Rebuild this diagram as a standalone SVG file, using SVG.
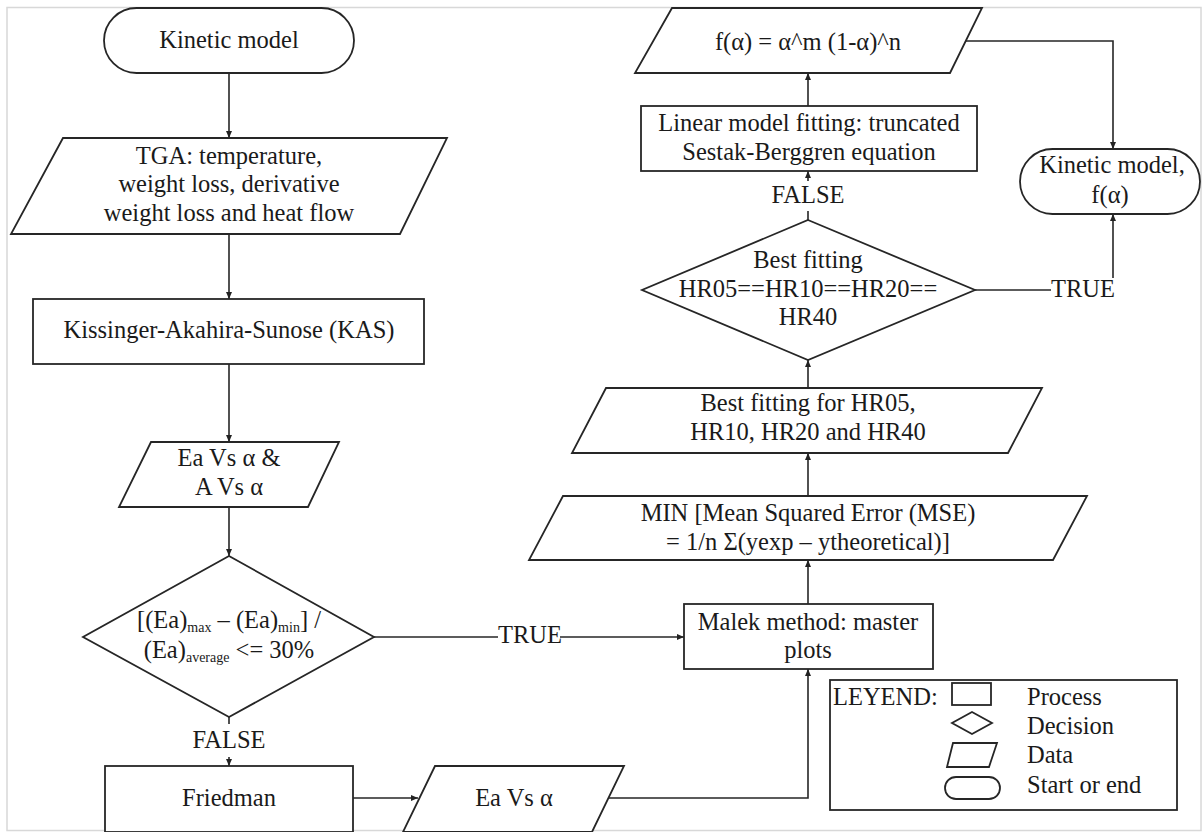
<svg xmlns="http://www.w3.org/2000/svg" width="1203" height="832" viewBox="0 0 1203 832" font-family="'Liberation Serif', 'Times New Roman', Tinos, 'DejaVu Serif', serif">
<defs>
<marker id="arr" markerUnits="userSpaceOnUse" markerWidth="8" markerHeight="8" refX="7" refY="4" orient="auto">
<path d="M0,1 L7,4 L0,7 Z" fill="#222"/>
</marker>
<style>
.s{fill:#fff;stroke:#262626;stroke-width:1.8}
.c{fill:none;stroke:#262626;stroke-width:1.6}
.a{marker-end:url(#arr)}
.t{font-family:'Liberation Serif','Times New Roman',Tinos,'DejaVu Serif',serif;font-size:24.5px;fill:#1a1a1a}
.m{text-anchor:middle}
.sub{font-size:14px}
</style>
</defs>
<rect x="0" y="0" width="1203" height="832" fill="#fff"/>
<rect x="7" y="7.5" width="1194" height="823" fill="none" stroke="#d8d8d8" stroke-width="1.5"/>

<g id="connectors">
<path class="c a" d="M229,73 V138"/>
<path class="c a" d="M229,234 V299"/>
<path class="c a" d="M229,364 V442"/>
<path class="c a" d="M229,507 V556"/>
<path class="c" d="M229,717 V724"/>
<text class="t m" x="229" y="748">FALSE</text>
<path class="c a" d="M229,757 V766"/>
<path class="c" d="M374,637 H498"/>
<text class="t" x="498" y="643">TRUE</text>
<path class="c a" d="M560,637 H684"/>
<path class="c a" d="M353,798 H418"/>
<path class="c a" d="M607,798 H808 V669"/>
<path class="c a" d="M808,604 V560"/>
<path class="c a" d="M808,496 V453"/>
<path class="c a" d="M808,388 V360"/>
<path class="c" d="M808,220 V211"/>
<text class="t m" x="808" y="203">FALSE</text>
<path class="c a" d="M808,181 V171"/>
<path class="c a" d="M808,106 V73"/>
<path class="c a" d="M966,41 H1113 V149"/>
<path class="c" d="M975,290 H1051"/>
<text class="t" x="1051" y="297">TRUE</text>
<path class="c a" d="M1113,278 V214"/>
</g>

<g id="start">
<rect class="s" x="104" y="8" width="250" height="65" rx="32.5"/>
<text class="t m" x="229" y="48">Kinetic model</text>
</g>

<g id="tga">
<path class="s" d="M63,138 H447 L400,234 H11 Z"/>
<text class="t m" x="229" y="164">TGA: temperature,</text>
<text class="t m" x="229" y="192">weight loss, derivative</text>
<text class="t m" x="229" y="221">weight loss and heat flow</text>
</g>

<g id="kas">
<rect class="s" x="33" y="299" width="391" height="65"/>
<text class="t m" x="229" y="338">Kissinger-Akahira-Sunose (KAS)</text>
</g>

<g id="ea-a">
<path class="s" d="M151,442 H339 L308,507 H119 Z"/>
<text class="t m" x="229" y="466">Ea Vs α &amp;</text>
<text class="t m" x="229" y="495">A Vs α</text>
</g>

<g id="decision1">
<path class="s" d="M229,556 L374,637 L229,717 L83,637 Z"/>
<text class="t m" x="229" y="628">[(Ea)<tspan class="sub" dy="4">max</tspan><tspan dy="-4"> – (Ea)</tspan><tspan class="sub" dy="4">min</tspan><tspan dy="-4">] /</tspan></text>
<text class="t m" x="229" y="658">(Ea)<tspan class="sub" dy="4">average</tspan><tspan dy="-4"> &lt;= 30%</tspan></text>
</g>

<g id="friedman">
<rect class="s" x="105" y="766" width="248" height="66"/>
<text class="t m" x="229" y="806">Friedman</text>
</g>

<g id="ea">
<path class="s" d="M435,766 H624 L592,832 H403 Z"/>
<text class="t m" x="514" y="806">Ea Vs α</text>
</g>

<g id="malek">
<rect class="s" x="684" y="604" width="249" height="65"/>
<text class="t m" x="808" y="630">Malek method: master</text>
<text class="t m" x="808" y="658">plots</text>
</g>

<g id="mse">
<path class="s" d="M563,496 H1087 L1053,560 H529 Z"/>
<text class="t m" x="808" y="521">MIN [Mean Squared Error (MSE)</text>
<text class="t m" x="808" y="550">= 1/n Σ(yexp – ytheoretical)]</text>
</g>

<g id="bestfit">
<path class="s" d="M606,388 H1042 L1008,453 H572 Z"/>
<text class="t m" x="808" y="411">Best fitting for HR05,</text>
<text class="t m" x="808" y="440">HR10, HR20 and HR40</text>
</g>

<g id="decision2">
<path class="s" d="M808,220 L975,290 L808,360 L642,290 Z"/>
<text class="t m" x="808" y="268">Best fitting</text>
<text class="t m" x="808" y="297">HR05==HR10==HR20==</text>
<text class="t m" x="808" y="325">HR40</text>
</g>

<g id="linear">
<rect class="s" x="641" y="106" width="336" height="65"/>
<text class="t m" x="809" y="131">Linear model fitting: truncated</text>
<text class="t m" x="809" y="160">Sestak-Berggren equation</text>
</g>

<g id="falpha">
<path class="s" d="M672,8 H982 L950,73 H635 Z"/>
<text class="t m" x="808" y="50">f(α) = α^m (1-α)^n</text>
</g>

<g id="end">
<rect class="s" x="1020" y="149" width="180" height="65" rx="32.5"/>
<text class="t m" x="1112" y="173">Kinetic model,</text>
<text class="t m" x="1110" y="203">f(α)</text>
</g>

<g id="legend">
<rect class="s" x="830" y="680" width="347" height="130"/>
<text class="t" x="833" y="705">LEYEND:</text>
<rect class="s" x="952" y="683" width="39" height="22"/>
<path class="s" d="M972,712 L992,723 L972,734 L952,723 Z"/>
<path class="s" d="M953,743 H997 L989,767 H947 Z"/>
<rect class="s" x="945" y="777" width="55" height="22" rx="11"/>
<text class="t" x="1027" y="705">Process</text>
<text class="t" x="1027" y="734">Decision</text>
<text class="t" x="1027" y="763">Data</text>
<text class="t" x="1027" y="793">Start or end</text>
</g>
</svg>
